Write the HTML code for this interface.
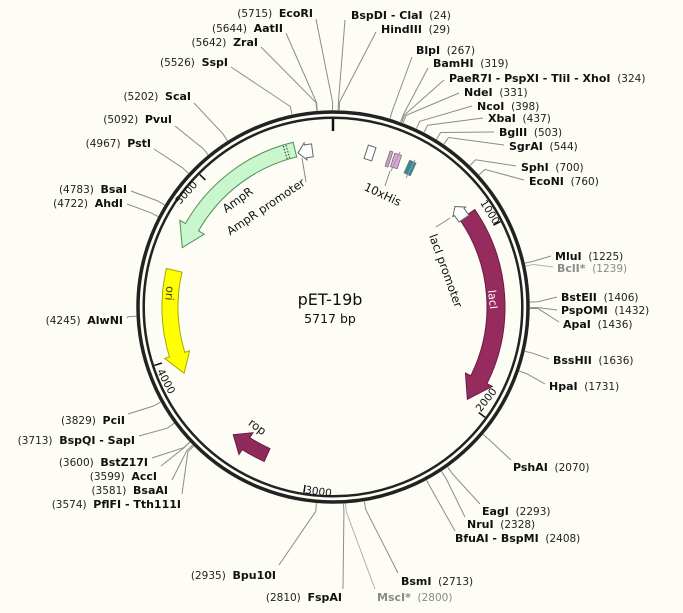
<!DOCTYPE html>
<html><head><meta charset="utf-8"><style>
html,body{margin:0;padding:0;background:#fdfcf5;}
svg{display:block;font-family:"DejaVu Sans","Liberation Sans",sans-serif;}
.n{font-weight:bold;font-size:11px;fill:#111}
.p{font-size:10.5px;fill:#222}
.g{fill:#8a8a8a}
</style></head><body>
<svg id="s" width="683" height="613" viewBox="0 0 683 613" xmlns="http://www.w3.org/2000/svg">
<rect width="683" height="613" fill="#fdfcf5"/>
<g id="lines" stroke="#8c8c8c" stroke-width="1" fill="none"></g>
<circle cx="333" cy="307" r="195" fill="none" stroke="#222" stroke-width="3.5"/>
<circle cx="333" cy="307" r="189.3" fill="none" stroke="#222" stroke-width="2.5"/>
<g id="feat"></g>
<g id="lab"></g>
<text x="330" y="305" text-anchor="middle" font-size="16" fill="#111">pET-19b</text>
<text x="330" y="323" text-anchor="middle" font-size="12.5" fill="#111">5717 bp</text>
<text transform="translate(240,203) rotate(-36)" text-anchor="middle" font-size="11.5" fill="#111">AmpR</text>
<text transform="translate(268,210) rotate(-34)" text-anchor="middle" font-size="11.5" fill="#111">AmpR promoter</text>
<text transform="translate(442,272) rotate(70)" text-anchor="middle" font-size="11.5" fill="#111">lacI promoter</text>
<text transform="translate(489,300) rotate(83)" text-anchor="middle" font-size="11" fill="#fff">lacI</text>
<text transform="translate(166,293) rotate(95)" text-anchor="middle" font-size="11" fill="#333">ori</text>
<text transform="translate(255,430) rotate(37)" text-anchor="middle" font-size="11.5" fill="#111">rop</text>
<text transform="translate(381,198) rotate(25)" text-anchor="middle" font-size="11.5" fill="#111">10xHis</text>
<line x1="390" y1="171" x2="385" y2="186" stroke="#888"/>
<rect x="-4" y="-7" width="8" height="14" fill="#fff" stroke="#666" transform="translate(370,153) rotate(18)"/>
<rect x="-1.5" y="-8" width="3" height="16" fill="#c9a0c9" stroke="#777" stroke-width="0.8" transform="translate(389,159) rotate(18)"/>
<rect x="-3.5" y="-7" width="7" height="14" fill="#dca8dc" stroke="#8a5a8a" stroke-width="0.8" transform="translate(396,161) rotate(18)"/>
<rect x="-3.5" y="-7" width="7" height="14" fill="#2c8a9a" stroke="#777" stroke-width="0.8" transform="translate(410,168) rotate(24)"/>
<line x1="415" y1="160" x2="406" y2="178" stroke="#999"/>
<line x1="400" y1="152" x2="391" y2="171" stroke="#999"/>
</svg>
<script>
var cx=333,cy=307,NS="http://www.w3.org/2000/svg";
function pt(r,a){a=a*Math.PI/180;return [cx+r*Math.sin(a),cy-r*Math.cos(a)];}
function el(t,at,par){var e=document.createElementNS(NS,t);for(var k in at)e.setAttribute(k,at[k]);document.getElementById(par).appendChild(e);return e;}
function arrow(r,w,a1,a2,hd,hw,fill,stroke){
 var s=a2>a1?1:-1,hb=a2-s*hd,ro=r+w/2,ri=r-w/2;
 var p1=pt(ro,a1),p2=pt(ro,hb),p3=pt(r+hw/2,hb),p4=pt(r,a2),p5=pt(r-hw/2,hb),p6=pt(ri,hb),p7=pt(ri,a1);
 var sw=s>0?1:0,lg=Math.abs(hb-a1)>180?1:0;
 var d="M"+p1+" A"+ro+","+ro+" 0 "+lg+" "+sw+" "+p2+" L"+p3+" L"+p4+" L"+p5+" L"+p6+" A"+ri+","+ri+" 0 "+lg+" "+(1-sw)+" "+p7+" Z";
 el("path",{d:d,fill:fill,stroke:stroke,"stroke-width":1},"feat");
}
arrow(162,15,-13.6,-68.5,8,28,"#c9f6cc","#4f8f55");
arrow(158,13,-7.5,-12.8,2.8,17,"#fff","#666");
arrow(163,16,-77,-114,7,26,"#ffff00","#a8a800");
arrow(163,18,55.5,124.5,8,30,"#962c5e","#6a1c40");
arrow(158,12,56,50.5,2.5,16,"#fff","#666");
arrow(162,14,-156,-142,5.5,26,"#8f2a5a","#6a1c40");
[-16.2,-17.2].forEach(function(a){var p=pt(155,a),q=pt(169,a);el("line",{x1:p[0],y1:p[1],x2:q[0],y2:q[1],stroke:"#333","stroke-dasharray":"1.5,1.5"},"feat");});
(function(){el("line",{x1:302,y1:158,x2:306,y2:182,stroke:"#888"},"feat");el("line",{x1:450,y1:218,x2:436,y2:227,stroke:"#888"},"feat");})();
var T=[[0,0],[1000,0],[2000,0],[3000,0],[4000,0],[5000,0]];
T.forEach(function(t){var a=t[0]/5717*360,p=pt(188,a),q=pt(t[0]?180:176,a);el("line",{x1:p[0],y1:p[1],x2:q[0],y2:q[1],stroke:"#111","stroke-width":t[0]?1.5:2.5},"feat");});
var TL=[["1000",487,214,58],["2000",489,402,-52],["3000",318,495,8],["4000",163,383,62],["5000",189,195,-48]];
TL.forEach(function(t){var e=el("text",{transform:"translate("+t[1]+","+t[2]+") rotate("+t[3]+")","text-anchor":"middle","font-size":"10.5",fill:"#111"},"lab");e.textContent=t[0];});
var E=[
[24,"BspDI - ClaI",24,351,15,"R",345,20],
[29,"HindIII",29,381,29,"R",376,32],
[267,"BlpI",267,416,50,"R",412,57],
[319,"BamHI",319,433,63,"R",428,68],
[324,"PaeR7I - PspXI - TliI - XhoI",324,449,78,"R",444,80],
[331,"NdeI",331,464,92,"R",459,93],
[398,"NcoI",398,477,106,"R",472,106],
[437,"XbaI",437,488,118,"R",483,118],
[503,"BglII",503,499,132,"R",494,132],
[544,"SgrAI",544,509,146,"R",504,145],
[700,"SphI",700,521,167,"R",516,166],
[760,"EcoNI",760,529,181,"R",524,180],
[1225,"MluI",1225,555,256,"R",551,256],
[1239,"BclI*",1239,557,268,"R",553,267,1],
[1406,"BstEII",1406,561,297,"R",557,297],
[1432,"PspOMI",1432,561,310,"R",557,310],
[1436,"ApaI",1436,563,324,"R",559,322],
[1636,"BssHII",1636,553,360,"R",549,359],
[1731,"HpaI",1731,549,386,"R",545,384],
[2070,"PshAI",2070,513,467,"R",511,460],
[2293,"EagI",2293,482,511,"R",480,504],
[2328,"NruI",2328,467,524,"R",465,517],
[2408,"BfuAI - BspMI",2408,455,538,"R",455,531],
[2713,"BsmI",2713,401,581,"R",398,573],
[2800,"MscI*",2800,377,597,"R",375,589,1],
[2935,"Bpu10I",2935,276,575,"L",279,565],
[2810,"FspAI",2810,342,597,"L",343,589],
[3574,"PflFI - Tth111I",3574,181,504,"L",182,494],
[3581,"BsaAI",3581,168,490,"L",172,480],
[3599,"AccI",3599,157,476,"L",161,466],
[3600,"BstZ17I",3600,148,462,"L",152,458],
[3713,"BspQI - SapI",3713,135,440,"L",139,436],
[3829,"PciI",3829,125,420,"L",128,414],
[4245,"AlwNI",4245,123,320,"L",127,318],
[4722,"AhdI",4722,123,203,"L",127,204],
[4783,"BsaI",4783,127,189,"L",131,191],
[4967,"PstI",4967,151,143,"L",154,149],
[5092,"PvuI",5092,172,119,"L",175,126],
[5202,"ScaI",5202,191,96,"L",194,103],
[5526,"SspI",5526,228,62,"L",231,67],
[5642,"ZraI",5642,258,42,"L",261,47],
[5644,"AatII",5644,283,28,"L",286,33],
[5715,"EcoRI",5715,313,13,"L",316,19]
];
E.forEach(function(e){
 var a=e[0]/5717*360,p0=pt(197,a),p1=pt(205,a);
 el("polyline",{points:p0+" "+p1+" "+e[6]+","+e[7],stroke:e[8]?"#b0b0b0":"#8c8c8c"},"lines");
 var t=el("text",{x:e[3],y:e[4]+4,"text-anchor":e[5]=="R"?"start":"end"},"lab");
 var g=e[8]?" g":"";
 if(e[5]=="R"){t.innerHTML='<tspan class="n'+g+'">'+e[1]+'</tspan><tspan class="p'+g+'">  ('+e[2]+')</tspan>';}
 else{t.innerHTML='<tspan class="p'+g+'">('+e[2]+')  </tspan><tspan class="n'+g+'">'+e[1]+'</tspan>';}
 t.setAttribute("xml:space","preserve");t.style.whiteSpace="pre";
});
</script>
</body></html>
